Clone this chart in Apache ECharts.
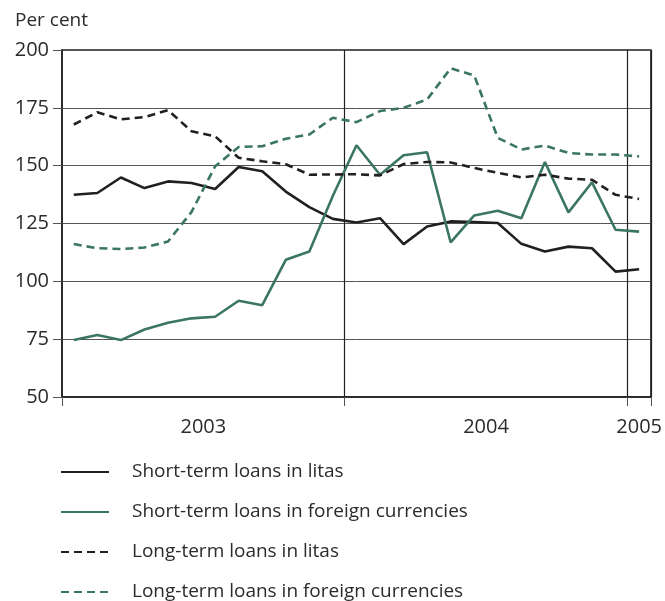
<!DOCTYPE html>
<html>
<head>
<meta charset="utf-8">
<script src="https://cdn.jsdelivr.net/npm/echarts@6/dist/echarts.min.js"></script>
<style>
html,body{margin:0;padding:0;background:#fff;}
#c{width:665px;height:601px;}
</style>
</head>
<body>
<div id="c"></div>
<script>
// Monthly data, Jan 2003 .. Jan 2005
const months = ['2003-01','2003-02','2003-03','2003-04','2003-05','2003-06','2003-07','2003-08','2003-09','2003-10','2003-11','2003-12',
  '2004-01','2004-02','2004-03','2004-04','2004-05','2004-06','2004-07','2004-08','2004-09','2004-10','2004-11','2004-12','2005-01'];
const shortLitas =   [137.4,138.2,144.9,140.3,143.2,142.5,139.9,149.4,147.6,138.8,132.1,127.0,125.4,127.3,116.1,123.7,125.9,125.6,125.2,116.2,112.9,115.0,114.3,104.2,105.2];
const shortForeign = [74.6,76.8,74.6,79.2,82.1,84.0,84.7,91.6,89.7,109.3,112.9,137.0,158.8,146.1,154.5,155.8,116.8,128.5,130.5,127.3,151.6,129.8,142.8,122.3,121.5];
const longLitas =    [167.8,173.1,170.0,171.0,174.0,164.9,162.7,153.4,151.9,150.6,146.1,146.2,146.3,145.8,150.7,151.6,151.4,149.0,146.9,144.9,146.1,144.4,143.9,137.4,135.6];
const longForeign =  [116.1,114.3,114.0,114.6,117.2,130.0,149.7,158.1,158.4,161.6,163.5,170.7,168.8,173.6,175.0,178.6,192.1,189.0,162.0,157.0,158.7,155.5,154.8,154.8,154.0];
const seriesNames = ['Short-term loans in litas','Short-term loans in foreign currencies','Long-term loans in litas','Long-term loans in foreign currencies'];
const yearLabels = {6:'2003', 18:'2004', 24.5:'2005'};
const yTicks = [50,75,100,125,150,175,200];

const BLACK = '#231f20';
const GREEN = '#3b7563';
const FONT = 'Open Sans';
const TXT = '#2b2b2b';

const chart = echarts.init(document.getElementById('c'), null, {renderer:'canvas'});
const mk = (name, data, color, dashed) => ({
  name, type:'line', data, xAxisIndex:0, symbol:'none', showSymbol:false, silent:true,
  lineStyle:{color, width:2.6, type: dashed ? [8,5] : 'solid'},
  itemStyle:{color}
});
chart.setOption({
  animation:false,
  title:{text:'Per cent', left:10, top:6, textStyle:{fontFamily:FONT, fontSize:19, fontWeight:'normal', color:TXT}},
  grid:{left:62, right:13, top:50, bottom:204, show:true, borderColor:BLACK, borderWidth:1.5},
  legend:{
    orient:'vertical', left:60, top:462, height:170, padding:0, itemWidth:48, itemHeight:20, itemGap:20,
    itemStyle:{opacity:0},
    textStyle:{fontFamily:FONT, fontSize:19, lineHeight:20, color:TXT, padding:[0,0,0,18]},
    data:seriesNames
  },
  xAxis:[{
    type:'category', data:months, boundaryGap:true,
    axisLine:{lineStyle:{color:BLACK, width:1.5}},
    axisTick:{show:true, length:9, interval:(i)=> i===0||i===12||i===24, lineStyle:{color:'#555'}},
    axisLabel:{show:false},
    splitLine:{show:true, interval:(i)=> i===12||i===24, lineStyle:{color:BLACK, width:1.2}}
  },{
    type:'value', min:0, max:25, interval:0.5, position:'bottom',
    axisLine:{show:false}, axisTick:{show:false}, splitLine:{show:false},
    axisLabel:{margin:20, fontFamily:FONT, fontSize:20, color:TXT,
      formatter:(v)=> yearLabels[v] || ''}
  }],
  yAxis:{
    type:'value', min:yTicks[0], max:yTicks[yTicks.length-1], interval:25,
    axisLine:{show:true, lineStyle:{color:BLACK, width:1.5}},
    axisTick:{show:true, length:9, lineStyle:{color:'#555'}},
    axisLabel:{margin:13, fontFamily:FONT, fontSize:20, color:TXT},
    splitLine:{show:true, lineStyle:{color:'#555', width:1}}
  },
  series:[
    mk(seriesNames[0], shortLitas, BLACK, false),
    mk(seriesNames[1], shortForeign, GREEN, false),
    mk(seriesNames[2], longLitas, BLACK, true),
    mk(seriesNames[3], longForeign, GREEN, true)
  ]
});
</script>
</body>
</html>
